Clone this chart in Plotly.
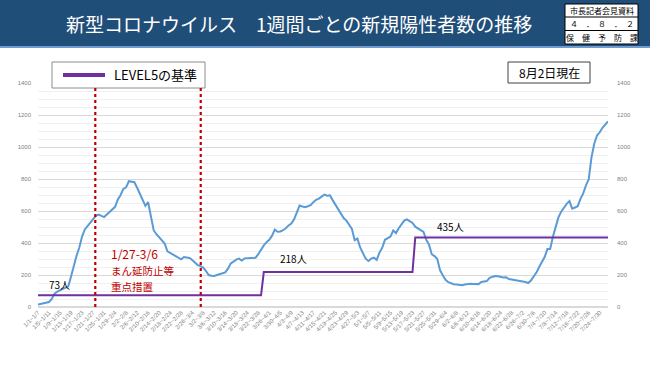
import plotly.graph_objects as go

# ---- data ----
weekly_cases = [
    15, 20, 24, 28, 31, 50, 84, 96, 104, 112,
    120, 129, 190, 262, 320, 372, 440, 485, 508, 530,
    552, 570, 577, 568, 562, 578, 594, 610, 626, 672,
    700, 738, 748, 786, 784, 780, 745, 708, 660, 632,
    655, 570, 480, 455, 436, 415, 396, 348, 338, 328,
    318, 312, 298, 312, 308, 306, 294, 278, 262, 256,
    246, 225, 200, 196, 194, 200, 204, 210, 216, 240,
    272, 284, 296, 302, 290, 304, 306, 305, 306, 308,
    330, 362, 385, 405, 420, 446, 484, 470, 472, 480,
    492, 510, 522, 548, 590, 634, 628, 624, 630, 636,
    655, 670, 677, 690, 702, 696, 698, 668, 640, 606,
    580, 556, 540, 510, 488, 418, 428, 372, 335, 302,
    288, 302, 308, 294, 340, 370, 420, 430, 440, 478,
    462, 492, 520, 540, 548, 535, 525, 502, 490, 480,
    470, 420, 390, 330, 318, 300, 230, 198, 170, 155,
    146, 142, 140, 138, 136, 140, 144, 146, 144, 142,
    143, 156, 158, 162, 182, 190, 194, 192, 188, 184,
    186, 175, 172, 170, 168, 166, 160, 156, 150, 165,
    188, 215, 250, 285, 312, 362, 362, 440, 505, 560,
    596, 625, 645, 662, 615, 622, 630, 676, 710, 760,
    798, 935, 1020, 1072, 1092, 1120, 1140, 1160,
]
tick_labels = [
    "1/1~1/7", "1/5~1/11", "1/9~1/15", "1/13~1/19", "1/17~1/23", "1/21~1/27",
    "1/25~1/31", "1/29~2/4", "2/2~2/8", "2/6~2/12", "2/10~2/16", "2/14~2/20",
    "2/18~2/24", "2/22~2/28", "2/26~3/4", "3/2~3/8", "3/6~3/12", "3/10~3/16",
    "3/14~3/20", "3/18~3/24", "3/22~3/28", "3/26~4/1", "3/30~4/5", "4/3~4/9",
    "4/7~4/13", "4/11~4/17", "4/15~4/21", "4/19~4/25", "4/23~4/29", "4/27~5/3",
    "5/1~5/7", "5/5~5/11", "5/9~5/15", "5/13~5/19", "5/17~5/23", "5/21~5/27",
    "5/25~5/31", "5/29~6/4", "6/2~6/8", "6/6~6/12", "6/10~6/16", "6/14~6/20",
    "6/18~6/24", "6/22~6/28", "6/26~7/2", "6/30~7/6", "7/4~7/10", "7/8~7/14",
    "7/12~7/18", "7/16~7/22", "7/20~7/26", "7/24~7/30",
]
tick_step = 4
# LEVEL5 criterion (step line): value and index ranges
level5_values = [73, 218, 435]
level5_start_idx = [0, 82, 137]
level5_end_idx = [81, 136, 207]
# measure period (まん延防止等重点措置 1/27-3/6), index positions on the axis
measure_period_idx = [20.8, 59.1]

# ---- derived ----
x_idx = list(range(len(weekly_cases)))
lvl_x, lvl_y = [], []
for v, s, e in zip(level5_values, level5_start_idx, level5_end_idx):
    lvl_x += [s, e]
    lvl_y += [v, v]
tickvals = [i * tick_step for i in range(len(tick_labels))]

W, H = 650, 365
L, R, T, B = 38, 42, 83, 58
PW, PH = W - L - R, H - T - B


def px(x):
    return (x - L) / PW


def py(y):
    return (H - B - y) / PH


JP = "Noto Sans CJK JP"

fig = go.Figure()
fig.add_trace(go.Scatter(
    x=x_idx, y=weekly_cases, mode="lines",
    line=dict(color="#5B9BD5", width=2), showlegend=False, hoverinfo="skip"))
fig.add_trace(go.Scatter(
    x=lvl_x, y=lvl_y, mode="lines",
    line=dict(color="#7030A0", width=2), showlegend=False, hoverinfo="skip"))
fig.add_trace(go.Scatter(
    x=[0], y=[0], yaxis="y2", mode="lines", opacity=0,
    showlegend=False, hoverinfo="skip"))

shapes = []
# header band
shapes.append(dict(type="rect", xref="paper", yref="paper",
                   x0=px(0), x1=px(W), y0=py(46), y1=py(0),
                   fillcolor="#1F4E79", line=dict(width=0), layer="below"))
shapes.append(dict(type="rect", xref="paper", yref="paper",
                   x0=px(0), x1=px(W), y0=py(48), y1=py(46),
                   fillcolor="#6F9BD0", line=dict(width=0), layer="below"))
# right info box
shapes.append(dict(type="rect", xref="paper", yref="paper",
                   x0=px(565), x1=px(638), y0=py(44), y1=py(4),
                   fillcolor="white", line=dict(color="black", width=1)))
for yy in (17, 30.5):
    shapes.append(dict(type="line", xref="paper", yref="paper",
                       x0=px(565), x1=px(638), y0=py(yy), y1=py(yy),
                       line=dict(color="black", width=1)))
# legend box
shapes.append(dict(type="rect", xref="paper", yref="paper",
                   x0=px(52), x1=px(205), y0=py(88), y1=py(62),
                   fillcolor="white", line=dict(color="#8C8C8C", width=1)))
shapes.append(dict(type="line", xref="paper", yref="paper",
                   x0=px(63), x1=px(105), y0=py(75), y1=py(75),
                   line=dict(color="#7030A0", width=4)))
# date box
shapes.append(dict(type="rect", xref="paper", yref="paper",
                   x0=px(508), x1=px(590), y0=py(83), y1=py(62),
                   fillcolor="white", line=dict(color="#404040", width=1)))
# measure period lines
for xv in measure_period_idx:
    shapes.append(dict(type="line", xref="x", yref="paper",
                       x0=xv, x1=xv, y0=0, y1=py(87),
                       line=dict(color="#C00000", width=2.2, dash="dot")))
fig.update_layout(shapes=shapes)

ann = []


def add_text(x, y, text, size, color="black", xanchor="center"):
    ann.append(dict(xref="paper", yref="paper", x=px(x), y=py(y), text=text,
                    xanchor=xanchor, yanchor="middle", showarrow=False,
                    font=dict(family=JP, size=size, color=color)))


add_text(299, 23, "新型コロナウイルス　1週間ごとの新規陽性者数の推移", 19, "white")
add_text(601.5, 10.5, "市長記者会見資料", 8)
add_text(601.5, 24, "４　．　８　．　２", 8)
add_text(601.5, 37.5, "保　健　予　防　課", 8)
add_text(112, 75, "LEVEL5の基準", 13, xanchor="left")
add_text(549, 72.5, "8月2日現在", 12)
add_text(59, 284, "73人", 10)
add_text(293, 258, "218人", 10)
add_text(450, 226, "435人", 10)
add_text(109, 253.5, "1/27-3/6", 12, "#C00000", xanchor="left")
add_text(109, 270.5, "まん延防止等", 10.5, "#C00000", xanchor="left")
add_text(109, 286, "重点措置", 10.5, "#C00000", xanchor="left")
fig.update_layout(annotations=ann)

axis_font = dict(family="Liberation Sans", size=6, color="#7F7F7F")
fig.update_layout(
    width=W, height=H,
    margin=dict(l=L, r=R, t=T, b=B, pad=0, autoexpand=False),
    paper_bgcolor="white", plot_bgcolor="white",
    showlegend=False,
    xaxis=dict(range=[0, len(weekly_cases) - 1], tickmode="array",
               tickvals=tickvals, ticktext=tick_labels, tickangle=-45,
               tickfont=axis_font, showgrid=False, zeroline=False,
               showline=False, ticks="", automargin=False),
    yaxis=dict(range=[0, 1400], dtick=200, tickfont=axis_font,
               gridcolor="#D9D9D9", gridwidth=1, zeroline=True,
               zerolinecolor="#D9D9D9", showline=False, ticks="",
               ticklabelstandoff=6, automargin=False,
               minor=dict(dtick=50, showgrid=True, gridcolor="#F0F0F0")),
    yaxis2=dict(range=[0, 1400], dtick=200, overlaying="y", side="right",
                tickfont=axis_font, showgrid=False, zeroline=False,
                showline=False, ticks="", ticklabelstandoff=8, automargin=False),
)

fig.write_html("out.html", config={"displayModeBar": False},
               post_script="document.body.style.margin='0';document.body.style.padding='0';")
